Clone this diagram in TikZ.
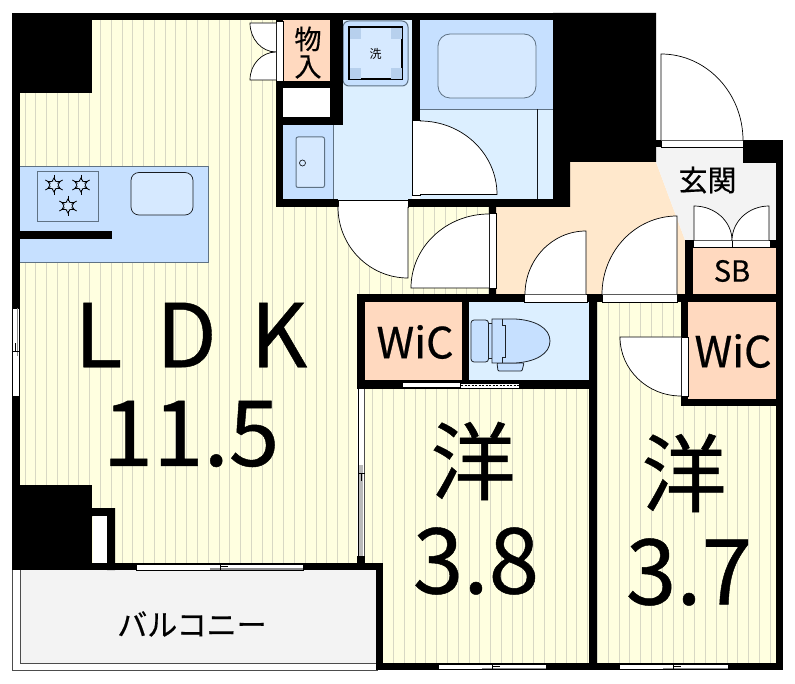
\documentclass[tikz,border=0pt]{standalone}
\usepackage{fontspec}
\usetikzlibrary{calc}
\setmainfont{Noto Sans CJK JP}
\newfontfamily\heavy{Noto Sans CJK JP}[FakeBold=0.5]
\definecolor{floorY}{HTML}{FFFFE0}
\definecolor{stripeC}{HTML}{D8D8C4}
\definecolor{wetB}{HTML}{DCEFFF}
\definecolor{counterB}{HTML}{C6E0FF}
\definecolor{bowlB}{HTML}{D6E9FF}
\definecolor{peachC}{HTML}{FFD9BF}
\definecolor{hallC}{HTML}{FFE8CC}
\definecolor{entryC}{HTML}{F3F3F3}
\definecolor{edgeC}{HTML}{5F7284}
\definecolor{winC}{HTML}{8C8C8C}
\tikzset{
  wall/.style={fill=black},
  doorline/.style={draw=black,fill=white,line width=0.7pt},
  fixture/.style={draw=edgeC,line width=1pt},
  winframe/.style={draw=black,fill=white,line width=0.5pt},
  lbl/.style={inner sep=0pt,text=black,font=\heavy\fontsize{#1}{#1}\selectfont},
}
\newcommand{\doorleaf}[3]{\draw[doorline] #1 -- #2 .. controls ($#2+0.5523*#3-0.5523*#1$) and ($#3+0.5523*#2-0.5523*#1$) .. #3;}
\newcommand{\burner}[2]{\begin{scope}[shift={(#1,#2)}]
  \foreach \a in {0,60,...,300}{\draw[black,line width=0.8pt] (\a+90:10pt) -- (\a+90:5pt);}
  \draw[black,line width=0.8pt] (90:7pt) -- (210:7pt) -- (330:7pt) -- cycle;
  \draw[black,line width=0.8pt] (30:7pt) -- (150:7pt) -- (270:7pt) -- cycle;
  \fill[bowlB] (0,0) circle (4pt);
\end{scope}}
\newcommand{\hwin}[5]{%x1 x2 y1 y2 xc
  \fill[white] (#1,#3) rectangle (#2,#4);
  \draw[black,line width=0.5pt] (#1,#3) rectangle (#2,#4);
  \draw[winC,line width=1.6pt] (#5-10,#4-1.2) -- (#2,#4-1.2);
  \draw[black,line width=0.5pt] (#5,#3) -- (#5,#4) (#5,#3+2) -- (#5+8,#3+2);}
\begin{document}
\begin{tikzpicture}[x=1pt,y=-1pt]
\useasboundingbox (0,0) rectangle (795,684);
\fill[white] (0,0) rectangle (795,684);
% floors with stripes
\begin{scope}
  \clip (20,20) -- (276,20) -- (276,207) -- (489,207) -- (489,294) -- (357,294) -- (357,563) -- (20,563) -- cycle;
  \fill[floorY] (20,20) rectangle (489,563);
  \foreach \n in {0,...,43}{\draw[stripeC,line width=1pt] ({25+10.78*\n},20) -- ({25+10.78*\n},563);}
\end{scope}
\begin{scope}
  \clip (365,389) rectangle (589,663);
  \fill[floorY] (365,389) rectangle (589,663);
  \foreach \n in {0,...,20}{\draw[stripeC,line width=1pt] ({372+10.78*\n},389) -- ({372+10.78*\n},663);}
\end{scope}
\begin{scope}
  \clip (597,302) rectangle (776,663);
  \fill[floorY] (597,302) rectangle (776,663);
  \foreach \n in {-1,...,15}{\draw[stripeC,line width=1pt] ({608.3+10.8*\n},302) -- ({608.3+10.8*\n},663);}
\end{scope}
% kitchen counter
\fill[counterB] (20,167) rectangle (208,263);
\draw[fixture] (20,167) -- (208,167) -- (208,263) -- (20,263);
\draw[fixture,fill=counterB] (37,172) rectangle (98,222);
\burner{54}{185}\burner{81}{185}\burner{68}{206}
\draw[draw=black!75!edgeC,line width=0.7pt,fill=bowlB,rounded corners=8pt] (131,172.5) rectangle (193,215);
\fill[wall] (20,231) rectangle (112,239);
% wash room
\fill[wetB] (334,125) rectangle (412,200);
\fill[wetB] (343,20) rectangle (412,126);
\fill[counterB] (283,125) rectangle (333,199);
\draw[fixture] (333,125) -- (333,199);
\draw[draw=edgeC,line width=1pt,fill=bowlB,rounded corners=2pt] (296,137) rectangle (324.5,187.5);
\draw[black!70!edgeC,line width=0.7pt] (302.5,163) circle (3pt);
\draw[draw=edgeC,line width=1pt,fill=counterB,rounded corners=6pt] (343,21) rectangle (408,86);
\draw[draw=black,line width=1.4pt,fill=bowlB] (349,27) rectangle (402,79);
\foreach \cx/\cy in {349/27,390/27,349/67,390/67}{\fill[counterB!85!edgeC] (\cx+1,\cy+1) rectangle (\cx+12,\cy+12);}
\node[inner sep=0pt,font=\fontsize{12}{12}\selectfont] (wash) at (375.5,54) {洗};
% bath
\fill[wetB] (420,20) rectangle (553,199);
\fill[counterB] (420,20) rectangle (553,109);
\draw[edgeC,line width=0.8pt] (420,109) -- (553,109);
\draw[draw=edgeC,line width=0.8pt,fill=bowlB,rounded corners=12pt] (438,34) rectangle (536,98);
\draw[black!80!edgeC,line width=0.7pt] (537.5,109) -- (537.5,199);
% store, white recess
\fill[peachC] (283,20) rectangle (330,81);
\fill[white] (283,88) rectangle (334.5,117);
% hall & entry
\fill[hallC] (570,162) -- (656,162) -- (685,240) -- (685,295) -- (496,295) -- (496,207) -- (570,207) -- cycle;
\fill[entryC] (656,147) -- (743,147) -- (743,163) -- (776,163) -- (776,240) -- (685,240) -- (656,162) -- cycle;
\fill[peachC] (693,247) rectangle (776,294);
\fill[peachC] (365,302) rectangle (462,380);
\fill[peachC] (688,302) rectangle (776,399);
\fill[wetB] (469,302) rectangle (589,380);
% balcony
\fill[entryC] (20,570) rectangle (376,663);
\draw[black!70,line width=0.8pt] (20,570) -- (20,663) -- (376,663);
\draw[black!70,line width=0.8pt] (12.5,570) -- (12.5,670) -- (378,670);
% walls
\fill[wall] (12,13) rectangle (656,20);
\fill[wall] (12,13) rectangle (92,93);
\fill[wall] (12,13) rectangle (20,308);
\fill[wall] (12,396) rectangle (20,490);
\fill[wall] (12,485) rectangle (92,570);
\fill[wall] (92,508) rectangle (115,516) (107,508) rectangle (115,570);
\fill[wall] (92,563) rectangle (383,570);
\fill[white] (92.5,516) rectangle (107,563);
\fill[wall] (376,563) rectangle (383,670);
\fill[wall] (376,662.5) rectangle (783,670);
\fill[wall] (357,556) rectangle (365,564);
% wet-core walls
\fill[wall] (276,13) rectangle (283,207);
\fill[wall] (276,199) rectangle (338,207);
\fill[wall] (330,13) rectangle (343,125);
\fill[wall] (276,81) rectangle (343,88.5);
\fill[wall] (276,117) rectangle (343,125);
\fill[wall] (412,13) rectangle (420,120);
\fill[wall] (408,199) rectangle (570,207);
\fill[wall] (553,13) -- (656,13) -- (656,162) -- (570,162) -- (570,207) -- (553,207) -- cycle;
\fill[wall] (489,207) rectangle (496,213) (489,288) rectangle (496,295);
% upper right
\fill[wall] (743,140) rectangle (783,163);
\fill[wall] (656,140) rectangle (661,147);
\fill[wall] (776,140) rectangle (783,670);
\fill[wall] (685,240) rectangle (693,302);
\fill[wall] (770,240) rectangle (783,248);
% cross walls
\fill[wall] (357,294) rectangle (783,302);
\fill[wall] (357,294) rectangle (365,389);
\fill[wall] (462,302) rectangle (469,389);
\fill[wall] (357,380) rectangle (597,389);
\fill[wall] (589,294) rectangle (597,670);
\fill[wall] (681,302) rectangle (688,337);
\fill[wall] (681,396) rectangle (688,406);
\fill[wall] (681,399) rectangle (783,406);
% door frames
\draw[winframe] (276,21) rectangle (283,81);
\draw[winframe] (338,200) rectangle (408,207);
\draw[winframe] (412,120) rectangle (420,195);
\draw[winframe] (489,213) rectangle (496,288);
\draw[winframe] (661,140.5) rectangle (743,147);
\draw[winframe] (693,240.5) rectangle (732,247.5);
\draw[winframe] (732,240.5) rectangle (770,247.5);
\draw[winframe] (524,294.5) rectangle (587,302);
\draw[winframe] (602,294.5) rectangle (677,302);
\draw[winframe] (681,337) rectangle (688,396);
\draw[winframe] (402,382) rectangle (460,387);
% dotted sliding door
\fill[white] (461,384) rectangle (519,388.5);
\draw[black,line width=1pt,dash pattern=on 2pt off 1.5pt] (461,386) -- (519,386);
% doors
\doorleaf{(276,23)}{(250,23)}{(276,52)}
\doorleaf{(276,80)}{(250,80)}{(276,52)}
\doorleaf{(408,207)}{(408,278)}{(338,207)}
\doorleaf{(420,194.5)}{(497,194.5)}{(420,121)}
\doorleaf{(489,288)}{(411,288)}{(489,214)}
\doorleaf{(586,294.5)}{(586,231)}{(525,294.5)}
\doorleaf{(677,294.5)}{(677,216)}{(602,294.5)}
\doorleaf{(661,140.5)}{(661,54)}{(743,140.5)}
\doorleaf{(694,240.5)}{(694,206)}{(732,240.5)}
\doorleaf{(769,240.5)}{(769,206)}{(732,240.5)}
\doorleaf{(681,337)}{(620,337)}{(681,396)}
% windows
\hwin{136}{303}{564}{570}{220}
\hwin{438}{546}{664}{669.5}{492}
\hwin{619}{728}{664}{669.5}{673}
\fill[white] (12.5,308) rectangle (19.5,396);
\draw[black,line width=0.5pt] (12.5,308) rectangle (19.5,396);
\draw[winC,line width=1.4pt] (17.5,308) -- (17.5,356);
\draw[black,line width=0.5pt] (13,351) -- (19.5,351) (15.5,351) -- (15.5,343);
\fill[white] (358,389) rectangle (365,556);
\draw[black,line width=0.5pt] (358,389) -- (358,556);
\draw[black!70,line width=1.2pt] (364.5,389) -- (364.5,556);
\fill[winC!60] (359,465) rectangle (363,556);
\draw[black,line width=0.5pt] (358,473) -- (365,473) (361,473) -- (361,481);
% toilet
\draw[draw=black!70!edgeC,line width=0.8pt,fill=counterB] (488,323) rectangle (492,358);
\draw[draw=black!70!edgeC,line width=0.8pt,fill=counterB,rounded corners=3pt] (471,320) rectangle (488.5,362);
\draw[draw=black!70!edgeC,line width=0.8pt,fill=counterB,rounded corners=1pt] (497,363) -- (498,371) -- (522,371) -- (524,363) -- cycle;
\draw[draw=black!70!edgeC,line width=0.8pt,fill=counterB] (492,319) -- (515,319) .. controls (535,320) and (550,328) .. (550,341) .. controls (550,354) and (535,362) .. (515,363) -- (492,363) -- cycle;
\draw[black!70!edgeC,line width=0.8pt] (502,319) -- (502,325) -- (505,325) -- (505,357) -- (502,357) -- (502,363);
% labels
\node[lbl=27] (mono) at (308,39) {物};
\node[lbl=27] (iri) at (308,67) {入};
\node[lbl=29] (genkan) at (707.5,180) {玄関};
\node[lbl=29] (sb) at (732,271) {SB};
\node[lbl=43] (wic1) at (415,342) {WiC};
\node[lbl=43] (wic2) at (733,351) {WiC};
\node[lbl=88] (ldk) at (191,335) {L\hspace{14pt} D\hspace{14pt} K};
\node[lbl=91] (area1) at (191,434) {11.5};
\node[lbl=85] (you1) at (473,461) {洋};
\node[lbl=91] (area2) at (476,561) {3.8};
\node[lbl=85] (you2) at (684,473) {洋};
\node[lbl=91] (area3) at (689,572) {3.7};
\node[lbl=30] (balc) at (192,624) {バルコニー};
\end{tikzpicture}
\end{document}
